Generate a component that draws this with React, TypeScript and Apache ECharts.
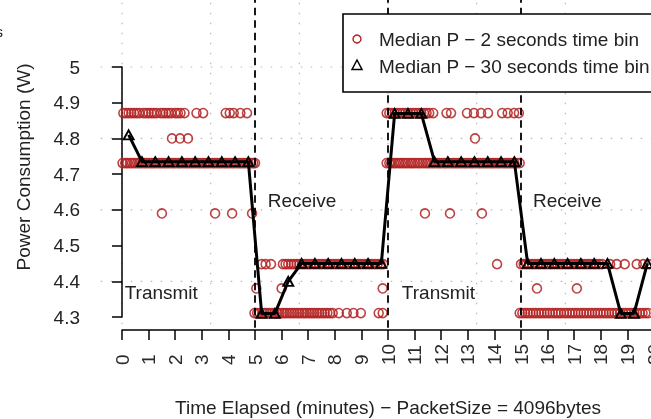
import React, { useEffect, useRef } from "react";
import * as echarts from "echarts";

const FONT = "'Liberation Sans', Arial, Helvetica, sans-serif";
const RED = "#b22222";

// 30-second time bins: bin centre (minutes) and median power (W)
const binMinutes = [
  0.25, 0.75, 1.25, 1.75, 2.25, 2.75, 3.25, 3.75, 4.25, 4.75,
  5.25, 5.75, 6.25, 6.75, 7.25, 7.75, 8.25, 8.75, 9.25, 9.75,
  10.25, 10.75, 11.25, 11.75, 12.25, 12.75, 13.25, 13.75, 14.25, 14.75,
  15.25, 15.75, 16.25, 16.75, 17.25, 17.75, 18.25, 18.75, 19.25, 19.75,
];
const binPower = [
  4.81, 4.735, 4.735, 4.735, 4.735, 4.735, 4.735, 4.735, 4.735, 4.735,
  4.31, 4.31, 4.4, 4.45, 4.45, 4.45, 4.45, 4.45, 4.45, 4.45,
  4.87, 4.87, 4.87, 4.735, 4.735, 4.735, 4.735, 4.735, 4.735, 4.735,
  4.45, 4.45, 4.45, 4.45, 4.45, 4.45, 4.45, 4.31, 4.31, 4.45,
];

// 2-second time bins: minutes at which the median power sits at each level
const minutesAt487 = [
  0.05, 0.15, 0.25, 0.35, 0.45, 0.55, 0.65, 0.8, 0.9, 1.0, 1.1, 1.2, 1.3, 1.45, 1.55, 1.65, 1.75, 1.85, 2.0, 2.1, 2.2, 2.35,
  2.8, 3.05, 3.9, 4.05, 4.2, 4.45, 4.7,
  9.95, 10.05, 10.15, 10.25, 10.35, 10.45, 10.55, 10.65, 10.75, 10.85, 10.95, 11.05, 11.15, 11.25, 11.35, 11.45, 11.55, 11.7,
  12.2, 12.37, 12.97, 13.23, 13.5, 13.76, 14.29, 14.5, 14.74, 14.92,
];
const minutesAt480 = [1.88, 2.18, 2.48, 13.27];
const minutesAt473 = [
  0.02, 0.12, 0.2, 0.3, 0.38, 0.48, 0.57, 0.66, 0.75, 0.85, 0.93, 1.03, 1.12, 1.2, 1.3, 1.4, 1.48, 1.57, 1.66, 1.75,
  1.85, 1.93, 2.02, 2.12, 2.2, 2.3, 2.4, 2.48, 2.57, 2.66, 2.75, 2.85, 2.93, 3.02, 3.12, 3.2, 3.3, 3.4, 3.48, 3.57,
  3.66, 3.75, 3.85, 3.93, 4.02, 4.12, 4.2, 4.3, 4.4, 4.48, 4.57, 4.66, 4.75, 4.85, 4.93, 5.0,
  9.95, 10.05, 10.12, 10.22, 10.3, 10.4, 10.48, 10.57, 10.66, 10.75, 10.85, 10.93, 11.02, 11.12, 11.2, 11.3, 11.4,
  11.48, 11.57, 11.66, 11.75, 11.85, 11.93, 12.02, 12.12, 12.2, 12.3, 12.4, 12.48, 12.57, 12.66, 12.75, 12.85, 12.93,
  13.02, 13.12, 13.2, 13.3, 13.4, 13.48, 13.57, 13.66, 13.75, 13.85, 13.93, 14.02, 14.12, 14.2, 14.3, 14.4, 14.48,
  14.57, 14.66, 14.75, 14.85, 14.95,
];
const minutesAt459 = [1.5, 3.5, 4.14, 4.89, 11.39, 12.33, 13.53];
const minutesAt445 = [
  5.25, 5.4, 5.6, 6.05, 6.15, 6.25, 6.36, 6.46, 6.57, 6.67, 6.78, 6.88, 6.99, 7.09, 7.2, 7.3, 7.41, 7.51, 7.62, 7.72,
  7.83, 7.93, 8.04, 8.14, 8.25, 8.35, 8.46, 8.56, 8.67, 8.77, 8.88, 8.98, 9.09, 9.19, 9.3, 9.4, 9.51, 9.61, 9.72, 9.82,
  14.1,
  15.0, 15.1, 15.21, 15.31, 15.42, 15.52, 15.63, 15.73, 15.84, 15.94, 16.05, 16.15, 16.26, 16.36, 16.47, 16.57, 16.68,
  16.78, 16.89, 16.99, 17.1, 17.2, 17.31, 17.41, 17.52, 17.62, 17.73, 17.83, 17.94, 18.05,
  18.35, 18.6, 18.9, 19.35, 19.6, 19.8,
];
const minutesAt438 = [5.05, 6.0, 9.8, 15.6, 17.1];
const minutesAt431 = [
  4.98, 5.08, 5.17, 5.27, 5.36, 5.45, 5.55, 5.64, 5.73, 5.83, 5.92, 6.02, 6.11, 6.2, 6.3, 6.39, 6.48, 6.58, 6.67, 6.77,
  6.86, 6.95, 7.05, 7.14, 7.23, 7.33, 7.42, 7.52, 7.62, 7.72, 7.82, 7.92, 8.15, 8.45, 8.7, 8.98, 9.65, 9.8,
  14.95, 15.05, 15.15, 15.25, 15.35, 15.46, 15.56, 15.67, 15.77, 15.88, 15.98, 16.08, 16.19, 16.3, 16.4, 16.5, 16.62,
  16.72, 16.83, 16.93, 17.04, 17.15, 17.25, 17.36, 17.46, 17.57, 17.67, 17.78, 17.88, 17.99, 18.1, 18.2, 18.31, 18.41,
  18.52, 18.62, 18.73, 18.84, 18.94, 19.05, 19.15, 19.26, 19.36, 19.47, 19.57, 19.68, 19.78,
];
const powerLevels = [4.871, 4.8, 4.731, 4.59, 4.448, 4.38, 4.311];
const minutesByLevel = [minutesAt487, minutesAt480, minutesAt473, minutesAt459, minutesAt445, minutesAt438, minutesAt431];

// phase boundaries (dashed) and phase names
const phaseBoundaries = [5, 10, 15];
const phaseNames = ["Transmit", "Receive", "Transmit", "Receive"];
const phaseNameMinute = [0.1, 5.48, 10.52, 15.45];
const phaseNamePower = [4.37, 4.625, 4.37, 4.625];

// dotted grid (R grid()) and plot region in data units
const gridXs = [0, 10 / 3, 20 / 3, 10, 40 / 3, 50 / 3, 20];
const gridYs = [4.4, 4.6, 4.8, 5.0, 5.2];
const plotX = [-0.8, 20.8];
const plotY = [4.264, 5.236];

const legendLabels = ["Median P \u2212 2 seconds time bin", "Median P \u2212 30 seconds time bin"];
const xTitle = "Time Elapsed (minutes) \u2212 PacketSize = 4096bytes";
const yTitle = "Power Consumption (W)";

export default function App() {
  const ref = useRef<HTMLDivElement>(null);
  useEffect(() => {
    const el = ref.current!;
    const chart = echarts.init(el, null, { renderer: "svg" });
    const circleData: number[][] = [];
    minutesByLevel.forEach((xs, i) => xs.forEach((m) => circleData.push([m, powerLevels[i]])));
    const binData = binMinutes.map((m, i) => [m, binPower[i]]);

    chart.setOption({
      animation: false,
      textStyle: { fontFamily: FONT },
      grid: { left: 122, right: -3, top: 67, bottom: 102, containLabel: false, outerBoundsMode: "none" },
      xAxis: {
        type: "value", min: 0, max: 20, interval: 1, offset: 13,
        axisLine: { show: true, lineStyle: { color: "#000", width: 1.5 } },
        axisTick: { show: true, inside: false, length: 10, lineStyle: { color: "#000", width: 1.5 } },
        axisLabel: {
          rotate: 90, align: "left", verticalAlign: "middle", margin: 35, fontSize: 19,
          color: "#2a2a2a", fontFamily: FONT, showMinLabel: true, showMaxLabel: true,
        },
        splitLine: { show: false },
      },
      yAxis: {
        type: "value", min: 4.3, max: 5.0, interval: 0.1, offset: 21,
        axisLine: { show: true, lineStyle: { color: "#000", width: 1.5 } },
        axisTick: { show: true, inside: false, length: 10, lineStyle: { color: "#000", width: 1.5 } },
        axisLabel: {
          margin: 21, fontSize: 19, color: "#222", fontFamily: FONT,
          formatter: (v: number) => String(+v.toFixed(1)),
        },
        splitLine: { show: false },
      },
      series: [
        {
          type: "scatter", data: circleData, symbol: "circle", symbolSize: 9, clip: false, silent: true,
          itemStyle: { color: "transparent", borderColor: RED, borderWidth: 1.6, opacity: 0.85 }, z: 2,
        },
        {
          type: "line", data: binData, symbol: "triangle", symbolSize: [10, 9], showAllSymbol: true,
          clip: false, silent: true,
          lineStyle: { color: "#000", width: 3 },
          itemStyle: { color: "transparent", borderColor: "#000", borderWidth: 1.9 }, z: 4,
        },
      ],
    });

    const px = (x: number, y: number) => chart.convertToPixel({ gridIndex: 0 }, [x, y]) as number[];
    const g: any[] = [];
    gridXs.forEach((gx) => {
      const a = px(gx, plotY[1]);
      const b = px(gx, plotY[0]);
      g.push({ type: "line", silent: true, z: 0, shape: { x1: a[0], y1: a[1], x2: b[0], y2: b[1] },
        style: { stroke: "#b8b8b8", lineWidth: 1.2, lineDash: [1.5, 8.5] } });
    });
    gridYs.forEach((gy) => {
      const a = px(plotX[0], gy);
      const b = px(plotX[1], gy);
      g.push({ type: "line", silent: true, z: 0, shape: { x1: a[0], y1: a[1], x2: b[0], y2: b[1] },
        style: { stroke: "#b8b8b8", lineWidth: 1.2, lineDash: [1.5, 8.5] } });
    });
    phaseBoundaries.forEach((bx) => {
      const a = px(bx, plotY[1]);
      const b = px(bx, plotY[0]);
      g.push({ type: "line", silent: true, z: 3, shape: { x1: a[0], y1: a[1], x2: b[0], y2: b[1] },
        style: { stroke: "#000", lineWidth: 1.8, lineDash: [7.5, 5] } });
    });
    phaseNames.forEach((t, i) => {
      const p = px(phaseNameMinute[i], phaseNamePower[i]);
      g.push({ type: "text", silent: true, z: 5, x: p[0], y: p[1],
        style: { text: t, fontSize: 19, fontFamily: FONT, fill: "#222", align: "left", verticalAlign: "middle" } });
    });
    // axis titles
    const xt = px(10, plotY[0]);
    g.push({ type: "text", silent: true, z: 5, x: xt[0], y: 407,
      style: { text: xTitle, fontSize: 19, fontFamily: FONT, fill: "#222", align: "center", verticalAlign: "middle" } });
    g.push({ type: "text", silent: true, z: 5, x: 23, y: 167, rotation: Math.PI / 2,
      style: { text: yTitle, fontSize: 19, fontFamily: FONT, fill: "#222", align: "center", verticalAlign: "middle" } });
    // cropped fragment of a title at the top left
    g.push({ type: "text", silent: true, z: 5, x: 3, y: 31,
      style: { text: "s", fontSize: 15, fontFamily: FONT, fill: "#222", align: "right", verticalAlign: "middle" } });
    // legend
    g.push({ type: "rect", silent: true, z: 10, shape: { x: 343, y: 14, width: 340, height: 78 },
      style: { fill: "#fff", stroke: "#000", lineWidth: 1.6 } });
    g.push({ type: "circle", silent: true, z: 11, shape: { cx: 357, cy: 39, r: 4 },
      style: { fill: "transparent", stroke: RED, lineWidth: 1.4 } });
    g.push({ type: "polygon", silent: true, z: 11, shape: { points: [[357, 60], [352, 69.5], [362, 69.5]] },
      style: { fill: "transparent", stroke: "#000", lineWidth: 1.5 } });
    legendLabels.forEach((t, i) => {
      g.push({ type: "text", silent: true, z: 11, x: 379, y: i === 0 ? 39 : 66,
        style: { text: t, fontSize: 19, fontFamily: FONT, fill: "#222", align: "left", verticalAlign: "middle" } });
    });
    chart.setOption({ graphic: g });

    return () => chart.dispose();
  }, []);
  return <div ref={ref} style={{ position: "fixed", left: 0, top: 0, width: 651, height: 419 }} />;
}
